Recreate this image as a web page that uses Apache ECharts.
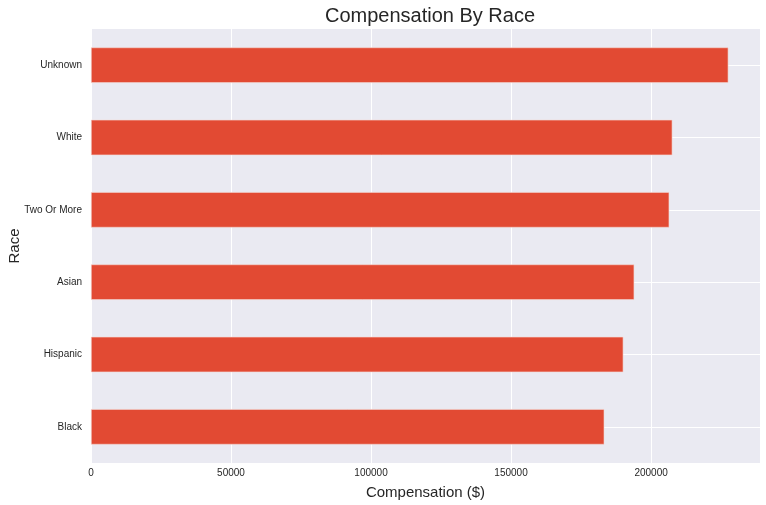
<!DOCTYPE html>
<html>
<head>
<meta charset="utf-8">
<script src="https://cdn.jsdelivr.net/npm/echarts@6/dist/echarts.min.js"></script>
<style>
  html, body { margin: 0; padding: 0; background: #fff; }
  #main { width: 766px; height: 505px; }
</style>
</head>
<body>
<div id="main"></div>
<script>
// data
const races = ['Black', 'Hispanic', 'Asian', 'Two Or More', 'White', 'Unknown'];
const compensation = [183300, 190100, 194000, 206500, 207600, 227600];
const xTicks = [0, 50000, 100000, 150000, 200000];

const font = '"Liberation Sans", Arial, sans-serif';

const chart = echarts.init(document.getElementById('main'));
const option = {
  backgroundColor: '#ffffff',
  animation: false,
  title: {
    text: 'Compensation By Race',
    left: 425,
    textAlign: 'center',
    top: 1,
    textStyle: { fontFamily: font, fontSize: 20, fontWeight: 'normal', color: '#262626' }
  },
  grid: {
    left: 91, right: 6, top: 29, bottom: 42,
    outerBoundsMode: 'none',
    containLabel: false,
    show: true, backgroundColor: '#EAEAF2', borderWidth: 0
  },
  xAxis: {
    type: 'value',
    min: 0,
    max: 238900,
    interval: 50000,
    name: 'Compensation ($)',
    nameLocation: 'middle',
    nameGap: 22,
    nameMoveOverlap: false,
    nameTextStyle: { fontFamily: font, fontSize: 15, color: '#262626' },
    axisLine: { show: false },
    axisTick: { show: false },
    splitLine: { lineStyle: { color: '#ffffff', width: 1 } },
    axisLabel: {
      fontFamily: font, fontSize: 10, color: '#262626', margin: 5,
      showMaxLabel: false,
      formatter: v => xTicks.includes(v) ? String(v) : ''
    }
  },
  yAxis: {
    type: 'category',
    data: races,
    name: 'Race',
    nameLocation: 'middle',
    nameGap: 69,
    nameMoveOverlap: false,
    nameTextStyle: { fontFamily: font, fontSize: 15, color: '#262626' },
    axisLine: { show: false },
    axisTick: { show: false },
    axisLabel: { fontFamily: font, fontSize: 10, color: '#262626', margin: 9 },
    splitLine: { show: false }
  },
  series: [
    {
      // horizontal grid lines through the category centres, behind the bars
      type: 'line',
      data: [],
      silent: true,
      z: 1,
      markLine: {
        silent: true,
        z: 1,
        symbol: 'none',
        label: { show: false },
        lineStyle: { color: '#ffffff', width: 1, type: 'solid' },
        data: races.map(r => ({ yAxis: r }))
      }
    },
    {
      type: 'bar',
      data: compensation,
      barWidth: '49%',
      itemStyle: { color: '#E24A33', borderColor: '#f3d6d2', borderWidth: 0.6 },
      z: 3
    }
  ]
};
option && chart.setOption(option);
</script>
</body>
</html>
